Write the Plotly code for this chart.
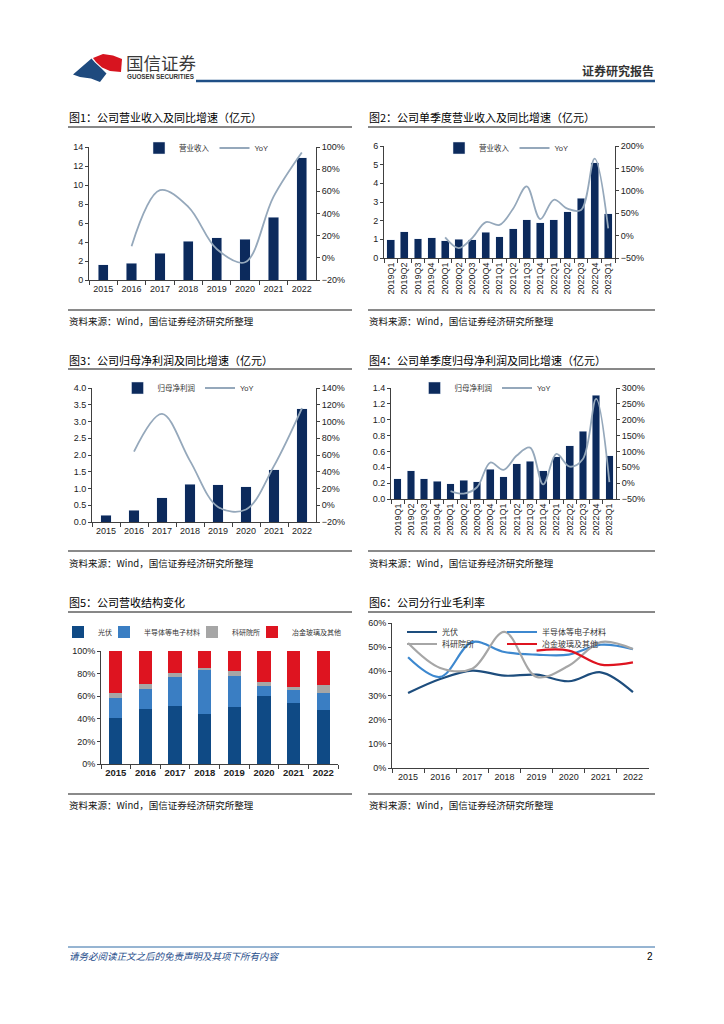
import plotly.graph_objects as go

# The page body has an 8px margin, so the figure is 16px smaller than the window
# and page-pixel coordinates are converted with that offset.
OFF = 8
W, H = 724 - 2 * OFF, 1024 - 2 * OFF


def px(x):
    return (x - OFF) / W


def py(y):
    return 1 - (y - OFF) / H


# ---------------- data ----------------
years = ['2015', '2016', '2017', '2018', '2019', '2020', '2021', '2022']
quarters = ['2019Q1', '2019Q2', '2019Q3', '2019Q4', '2020Q1', '2020Q2', '2020Q3', '2020Q4',
            '2021Q1', '2021Q2', '2021Q3', '2021Q4', '2022Q1', '2022Q2', '2022Q3', '2022Q4', '2023Q1']

rev = [1.61, 1.78, 2.80, 4.10, 4.45, 4.27, 6.60, 12.88]
rev_yoy = [None, 10.5, 61, 46, 8, -4, 55, 95]

q_rev = [0.98, 1.40, 1.03, 1.08, 0.92, 1.01, 0.98, 1.39, 1.15, 1.58, 2.04, 1.90,
         2.04, 2.47, 3.21, 5.10, 2.36]
q_rev_yoy = [None, None, None, None, -4, -28, -5, 30, 24, 60, 110, 37, 80, 60, 57, 172, 16]

profit = [0.20, 0.35, 0.73, 1.12, 1.11, 1.05, 1.56, 3.38]
profit_yoy = [None, 64, 109, 53, -2, -5, 47, 116]

q_profit = [0.255, 0.355, 0.255, 0.226, 0.192, 0.239, 0.22, 0.376, 0.28, 0.443, 0.476,
            0.355, 0.53, 0.673, 0.857, 1.308, 0.543]
q_profit_yoy = [None, None, None, None, -25, -33, -13, 65, 42, 87, 112, -4, 92, 52, 76, 266, 3]

seg_names = ['光伏', '半导体等电子材料', '科研院所', '冶金玻璃及其他']
share_pv = [40.9, 48.8, 50.9, 44.1, 50.6, 60.0, 54.4, 47.6]
share_semi = [17.9, 17.4, 25.9, 38.8, 27.0, 9.4, 10.9, 15.3]
share_research = [4.4, 5.0, 3.5, 2.4, 5.0, 3.0, 2.6, 6.8]
share_metal = [36.8, 28.8, 19.7, 14.7, 17.4, 27.6, 32.1, 30.3]

gm_pv = [31.0, 36.8, 40.3, 38.2, 38.6, 35.9, 39.6, 31.4]
gm_semi = [45.8, 37.7, 52.1, 48.0, 46.9, 46.9, 51.0, 49.2]
gm_research = [51.7, 41.4, 41.1, 56.3, 37.7, 42.3, 52.1, 49.2]
gm_metal = [None, None, None, None, 48.6, 48.6, 42.8, 43.7]

titles = ['图1：公司营业收入及同比增速（亿元）', '图2：公司单季度营业收入及同比增速（亿元）',
          '图3：公司归母净利润及同比增速（亿元）', '图4：公司单季度归母净利润及同比增速（亿元）',
          '图5：公司营收结构变化', '图6：公司分行业毛利率']
source_text = '资料来源：Wind，国信证券经济研究所整理'

# ---------------- style ----------------
NAVY = '#0c2a5c'
YOY = '#95a8bb'
C_PV = '#0f4a85'
C_SEMI = '#3a7ec3'
C_RES = '#a6a6a6'
C_MET = '#de1420'
L_PV = '#1d4d7d'
L_SEMI = '#3d88cf'
FONT = 'Liberation Sans, Noto Sans CJK SC, sans-serif'
CJK = 'Noto Sans CJK SC, sans-serif'
AX = '#404040'

fig = go.Figure()

# Chart 1
fig.add_trace(go.Bar(x=years, y=rev, name='营业收入', marker_color=NAVY, width=0.36,
                     xaxis='x', yaxis='y', legend='legend'))
fig.add_trace(go.Scatter(x=years, y=rev_yoy, name='YoY', mode='lines',
                         line=dict(color=YOY, width=1.8, shape='spline'),
                         xaxis='x', yaxis='y2', legend='legend'))
# Chart 2
fig.add_trace(go.Bar(x=quarters, y=q_rev, name='营业收入', marker_color=NAVY, width=0.58,
                     xaxis='x2', yaxis='y3', legend='legend2'))
fig.add_trace(go.Scatter(x=quarters, y=q_rev_yoy, name='YoY', mode='lines',
                         line=dict(color=YOY, width=1.8, shape='spline'),
                         xaxis='x2', yaxis='y4', legend='legend2'))
# Chart 3
fig.add_trace(go.Bar(x=years, y=profit, name='归母净利润', marker_color=NAVY, width=0.36,
                     xaxis='x3', yaxis='y5', legend='legend3'))
fig.add_trace(go.Scatter(x=years, y=profit_yoy, name='YoY', mode='lines',
                         line=dict(color=YOY, width=1.8, shape='spline'),
                         xaxis='x3', yaxis='y6', legend='legend3'))
# Chart 4
fig.add_trace(go.Bar(x=quarters, y=q_profit, name='归母净利润', marker_color=NAVY, width=0.58,
                     xaxis='x4', yaxis='y7', legend='legend4'))
fig.add_trace(go.Scatter(x=quarters, y=q_profit_yoy, name='YoY', mode='lines',
                         line=dict(color=YOY, width=1.8, shape='spline'),
                         xaxis='x4', yaxis='y8', legend='legend4'))
# Chart 5 (one legend per entry so entries can sit tightly like the original)
for k, (nm, vals, col) in enumerate(zip(seg_names,
                                        [share_pv, share_semi, share_research, share_metal],
                                        [C_PV, C_SEMI, C_RES, C_MET])):
    fig.add_trace(go.Bar(x=years, y=vals, name=nm, marker_color=col, width=0.45,
                         marker_line_width=0, xaxis='x5', yaxis='y9',
                         legend=f'legend{5 + k}'))
# Chart 6
for k, (nm, vals, col) in enumerate(zip(seg_names,
                                        [gm_pv, gm_semi, gm_research, gm_metal],
                                        [L_PV, L_SEMI, C_RES, C_MET])):
    fig.add_trace(go.Scatter(x=years, y=vals, name=nm, mode='lines',
                             line=dict(color=col, width=2.2, shape='spline'),
                             xaxis='x6', yaxis='y10', legend=f'legend{9 + k}'))


def ax(**kw):
    d = dict(showline=True, linecolor=AX, linewidth=1, ticks='outside', ticklen=3,
             tickcolor=AX, showgrid=False, zeroline=False, fixedrange=True,
             automargin=False, tickfont=dict(family=FONT, size=9, color='#222'))
    d.update(kw)
    return d


def xcat(x0, x1, yname, angle=0, **kw):
    return ax(domain=[px(x0), px(x1)], anchor=yname, type='category',
              tickson='boundaries', ticklen=4, tickangle=angle, **kw)


layout = dict(
    width=W, height=H, margin=dict(l=0, r=0, t=0, b=0, autoexpand=False),
    paper_bgcolor='white', plot_bgcolor='white', barmode='stack',
    font=dict(family=FONT, size=9, color='#222'),
    # chart 1
    xaxis=xcat(89, 316, 'y'),
    yaxis=ax(domain=[py(280), py(147)], anchor='x', range=[0, 14], dtick=2),
    yaxis2=ax(overlaying='y', side='right', anchor='x', range=[-20, 100], dtick=20,
              ticksuffix='%'),
    # chart 2
    xaxis2=xcat(384, 615, 'y3', angle=-90),
    yaxis3=ax(domain=[py(258), py(146)], anchor='x2', range=[0, 6], dtick=1),
    yaxis4=ax(overlaying='y3', side='right', anchor='x2', range=[-50, 200], dtick=50,
              ticksuffix='%'),
    # chart 3
    xaxis3=xcat(92, 316, 'y5'),
    yaxis5=ax(domain=[py(522), py(388)], anchor='x3', range=[0, 4], dtick=0.5,
              tickformat='.1f'),
    yaxis6=ax(overlaying='y5', side='right', anchor='x3', range=[-20, 140], dtick=20,
              ticksuffix='%'),
    # chart 4
    xaxis4=xcat(391, 616, 'y7', angle=-90),
    yaxis7=ax(domain=[py(499), py(388)], anchor='x4', range=[0, 1.4], dtick=0.2,
              tickformat='.1f'),
    yaxis8=ax(overlaying='y7', side='right', anchor='x4', range=[-50, 300], dtick=50,
              ticksuffix='%'),
    # chart 5
    xaxis5=xcat(101, 338, 'y9', tickfont=dict(family=FONT, size=9.5, color='#222',
                                               weight='bold')),
    yaxis9=ax(domain=[py(764), py(651)], anchor='x5', range=[0, 100], dtick=20,
              ticksuffix='%'),
    # chart 6
    xaxis6=xcat(392, 649, 'y10', range=[-0.5, len(years) - 0.5]),
    yaxis10=ax(domain=[py(768), py(623)], anchor='x6', range=[0, 60], dtick=10,
               ticksuffix='%'),
)


def leg(xc, yc, xanchor='center', size=7.5):
    return dict(orientation='h', x=px(xc), y=py(yc), xanchor=xanchor, yanchor='middle',
                bgcolor='rgba(0,0,0,0)', font=dict(family=FONT, size=size, color='#333'),
                itemwidth=30, traceorder='normal', itemclick=False, itemdoubleclick=False)


layout['legend'] = leg(206, 148)
layout['legend2'] = leg(506, 148)
layout['legend3'] = leg(188, 388)
layout['legend4'] = leg(485, 388)
# chart 5 legend entries
for k, x0 in enumerate([58, 104, 192, 252]):
    layout[f'legend{5 + k}'] = leg(x0, 632, xanchor='left', size=7)
# chart 6 legend entries (2 x 2)
for k, (x0, y0) in enumerate([(402, 632), (502, 632), (402, 644), (502, 644)]):
    layout[f'legend{9 + k}'] = leg(x0, y0, xanchor='left', size=8)

fig.update_layout(**layout)

# ---------------- page decorations ----------------
shapes = []


def hline(x0, x1, y, color, width):
    shapes.append(dict(type='line', xref='paper', yref='paper', x0=px(x0), x1=px(x1),
                       y0=py(y), y1=py(y), line=dict(color=color, width=width)))


def poly(points, color):
    path = 'M ' + ' L '.join(f'{px(a):.5f},{py(b):.5f}' for a, b in points) + ' Z'
    shapes.append(dict(type='path', xref='paper', yref='paper', path=path,
                       fillcolor=color, line=dict(width=0)))


# logo
poly([(93, 58), (103, 54), (113, 55.5), (122, 59), (121, 72), (110, 71), (102, 67.5),
      (96, 62)], '#d7141f')
poly([(73, 74.5), (91.5, 58.5), (95, 62.5), (101.5, 68.5), (106.5, 73.5), (100, 82),
      (91, 78.5), (80, 77)], '#1e4a7e')

hline(196, 655, 81, '#1f4f86', 2.5)
rows = [(117, 127, 310, 321), (360, 369, 551, 563), (602, 612, 794, 805)]
for r, (ty, rl, sl, sy) in enumerate(rows):
    hline(68, 352, rl, '#111', 1)
    hline(368, 655, rl, '#111', 1)
    hline(68, 352, sl, '#8a8a8a', 2)
    hline(368, 655, sl, '#8a8a8a', 2)
hline(68, 655, 947, '#2f6aa5', 1)

ann = []


def text(x, y, s, size, color='#000', anchor='left', family=CJK, **fkw):
    ann.append(dict(xref='paper', yref='paper', x=px(x), y=py(y), text=s, showarrow=False,
                    xanchor=anchor, yanchor='middle',
                    font=dict(family=family, size=size, color=color, **fkw)))


text(124, 62, '国信证券', 17.5, '#3a3a3a')
text(125, 77, 'GUOSEN SECURITIES', 6.3, '#333', family='Liberation Sans, sans-serif',
     weight='bold')
text(656, 70, '证券研究报告', 12, '#333', anchor='right', weight='bold')

for i, t in enumerate(titles):
    r = i // 2
    x0 = 67 if i % 2 == 0 else 367
    text(x0, rows[r][0], t, 11, '#000')
    text(x0, rows[r][3], source_text, 9.5, '#111')

text(67, 956, '请务必阅读正文之后的免责声明及其项下所有内容', 9.5, '#1f4e8c', style='italic')
text(655, 956, '2', 10, '#000', anchor='right', family=FONT)

fig.update_layout(shapes=shapes, annotations=ann)
fig.write_html('out.html')
